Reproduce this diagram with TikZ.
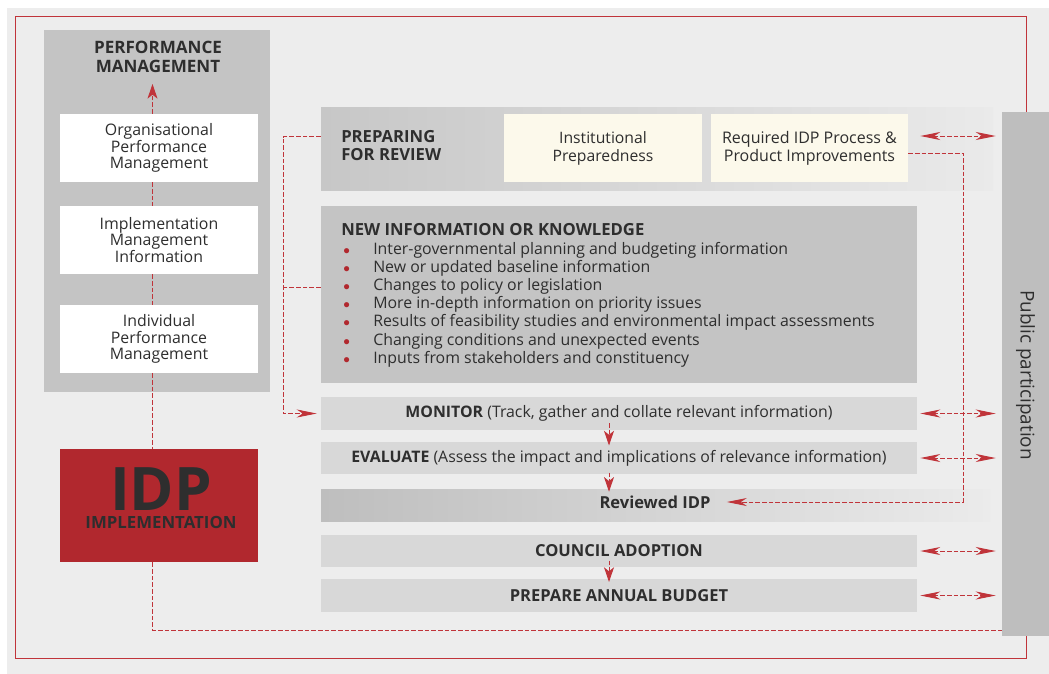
\documentclass[tikz,border=0pt]{standalone}
\usepackage{fontspec}
\setmainfont{Open Sans}
\usepackage{xcolor}
\usetikzlibrary{arrows.meta}

\definecolor{idpred}{HTML}{B1282E}
\definecolor{linered}{HTML}{C0343A}
\definecolor{bggray}{HTML}{EDEDED}
\definecolor{boxgray}{HTML}{C4C4C4}
\definecolor{rowgray}{HTML}{D8D8D8}
\definecolor{ppgray}{HTML}{BEBEBE}
\definecolor{cream}{HTML}{FCF9EB}
\definecolor{ink}{HTML}{2E2E2E}
\newcommand{\dotitem}{\hspace*{1.5pt}\makebox[22.5pt][l]{\textcolor{idpred}{\fontsize{10}{13}\selectfont$\bullet$}}}

\begin{document}
\begin{tikzpicture}[x=0.75pt,y=-0.75pt,
  every node/.style={inner sep=0pt, text=ink, font=\fontsize{11.9}{13.65}\selectfont},
  block/.style={fill=#1, minimum width=148.5pt, minimum height=51pt, align=center,
    font=\fontsize{11.9}{12.4}\selectfont},
  row/.style={fill=rowgray, minimum width=447pt, minimum height=24.4pt},
  boldrow/.style={row, font=\fontsize{12.4}{14}\selectfont\bfseries},
  redline/.style={draw=linered, line width=0.7pt, dash pattern=on 3.5pt off 1.5pt},
  bigtip/.tip={Stealth[length=15pt, width=6pt, inset=4.5pt]},
  smalltip/.tip={Stealth[length=11pt, width=7.5pt, inset=3pt]}]
\useasboundingbox (0,0) rectangle (1049,674);
%% background and frame
\fill[white] (0,0) rectangle (1049,674);
\fill[bggray] (7,8) rectangle (1049,674);
\draw[draw=linered, line width=0.75pt] (15.5,16.5) rectangle (1026.5,658.5);

%% performance management column
\node[fill=boxgray, minimum width=169.5pt, minimum height=271.5pt] (pm) at (157,211) {};
\node[align=center, font=\fontsize{12.8}{14.25}\selectfont\bfseries] (pmtitle) at (158,57)
  {PERFORMANCE\\MANAGEMENT};
\node[block=white] (opm) at (159,148) {Organisational\\Performance\\Management};
\node[block=white] (imi) at (159,240) {Implementation\\Management\\Information};
\node[block=white] (ipm) at (159,339) {Individual\\Performance\\Management};
\node[fill=idpred, minimum width=148.5pt, minimum height=84.75pt] (idp) at (159,505.5) {};
\node[anchor=north, align=center, font=\fontsize{12.6}{14}\selectfont\bfseries] (idptxt) at (161,467)
  {{\fontsize{45}{14}\selectfont IDP}\\IMPLEMENTATION};
\coordinate (spine) at (152.5,0);
\coordinate (pmtip) at (152.5,84);
\coordinate (loopb) at (152.5,630);

%% preparing for review
\node[left color={rgb,255:red,199;green,199;blue,199}, right color={rgb,255:red,234;green,234;blue,234},
  minimum width=504pt, minimum height=62.25pt] (prep) at (657,148.5) {};
\node[anchor=west, align=left, font=\fontsize{12.5}{13.5}\selectfont\bfseries] (preptxt) at (341,146)
  {PREPARING\\FOR REVIEW};
\node[block=cream, font=\fontsize{11.8}{13.5}\selectfont] (inst) at (603,148) {Institutional\\Preparedness};
\node[block=cream, minimum width=147.75pt, font=\fontsize{12}{13.5}\selectfont] (req) at (809.5,148)
  {Required IDP Process \&\\Product Improvements};

%% new information
\node[fill=boxgray, minimum width=447pt, minimum height=132.75pt] (newinfo) at (619,294.5) {};
\node[anchor=north west, align=left] (newtxt) at (341,223.5)
  {{\fontsize{12.5}{13.65}\selectfont\bfseries NEW INFORMATION OR KNOWLEDGE}\\
   \dotitem Inter-governmental planning and budgeting information\\
   \dotitem New or updated baseline information\\
   \dotitem Changes to policy or legislation\\
   \dotitem More in-depth information on priority issues\\
   \dotitem Results of feasibility studies and environmental impact assessments\\
   \dotitem Changing conditions and unexpected events\\
   \dotitem Inputs from stakeholders and constituency};

%% review steps
\node[row] (monitor) at (619,413.5)
  {\textbf{MONITOR} (Track, gather and collate relevant information)};
\node[row] (evaluate) at (619,458)
  {\textbf{EVALUATE} (Assess the impact and implications of relevance information)};
\node[left color={rgb,255:red,190;green,190;blue,190}, right color={rgb,255:red,235;green,235;blue,235},
  minimum width=501.75pt, minimum height=24pt] (reviewed) at (655.5,505) {};
\node[font=\fontsize{12.4}{14}\selectfont\bfseries] (revlbl) at (655,502) {Reviewed IDP};
\node[boldrow] (council) at (619,551) {COUNCIL ADOPTION};
\node[boldrow] (budget) at (619,595.5) {PREPARE ANNUAL BUDGET};
\coordinate (flow) at (609,0);
\coordinate (lloop) at (283,0);
\coordinate (rloop) at (963,0);

%% public participation
\node[fill=ppgray, minimum width=35.25pt, minimum height=393pt] (pp) at (1025.5,374) {};
\node[rotate=-90, font=\fontsize{14.2}{16}\selectfont] (pptxt) at (1025.5,375) {Public participation};

%% left column links
\draw[redline, -smalltip] (opm.north -| spine) -- (pmtip);
\draw[redline] (opm.south -| spine) -- (imi.north -| spine);
\draw[redline] (imi.south -| spine) -- (ipm.north -| spine);
\draw[redline] (ipm.south -| spine) -- (idp.north -| spine);
\draw[redline] (idp.south -| spine) -- (loopb) -- (loopb -| pp.west);

%% review loop
\draw[redline, -bigtip, shorten >=3pt] ([yshift=9pt]prep.west) -| (lloop |- monitor.west) -- (monitor.west);
\draw[redline] ([yshift=5.25pt]newinfo.west) -- ([yshift=5.25pt]newinfo.west -| lloop);
\draw[redline, -bigtip, shorten >=12pt] ([yshift=-3.75pt]req.east) -| (rloop |- revlbl) -- (revlbl.east);
\draw[redline, -smalltip, shorten <=-5.25pt, shorten >=-3pt] (flow |- monitor.south) -- (flow |- evaluate.north);
\draw[redline, -smalltip, shorten <=-1.5pt, shorten >=-2.25pt] (flow |- evaluate.south) -- (flow |- reviewed.north);
\draw[redline, -smalltip, shorten <=-5.25pt, shorten >=-2.25pt] (flow |- council.south) -- (flow |- budget.north);

%% public participation links
\draw[redline, bigtip-bigtip, shorten <=9pt, shorten >=4.5pt] ([yshift=9pt]req.east) -- ([yshift=9pt]req.east -| pp.west);
\draw[redline, bigtip-bigtip, shorten <=2.25pt, shorten >=4.5pt] (monitor.east) -- (monitor.east -| pp.west);
\draw[redline, bigtip-bigtip, shorten <=2.25pt, shorten >=4.5pt] (evaluate.east) -- (evaluate.east -| pp.west);
\draw[redline, bigtip-bigtip, shorten <=2.25pt, shorten >=4.5pt] (council.east) -- (council.east -| pp.west);
\draw[redline, bigtip-bigtip, shorten <=2.25pt, shorten >=4.5pt] (budget.east) -- (budget.east -| pp.west);
\end{tikzpicture}
\end{document}
